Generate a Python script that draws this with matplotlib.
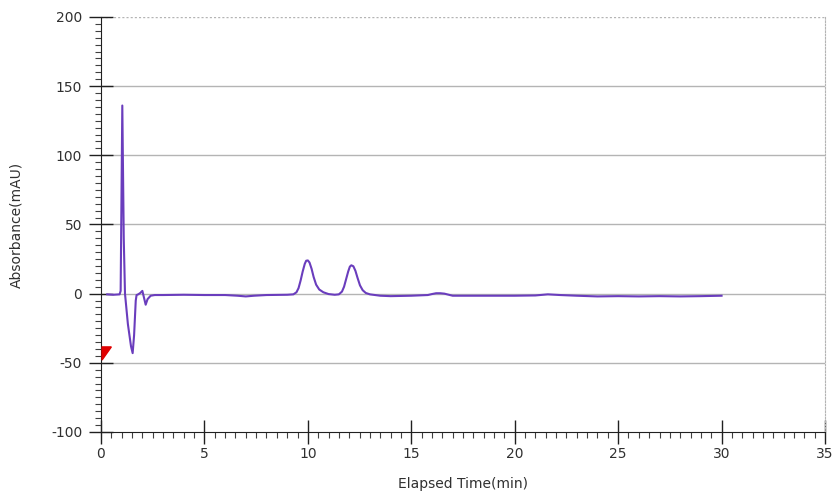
import matplotlib
matplotlib.use("Agg")
import matplotlib.pyplot as plt
from matplotlib.ticker import MultipleLocator

plt.rcParams["axes.unicode_minus"] = False

# chromatogram trace
time_min = [0.3, 0.6, 0.9, 0.95, 1.03, 1.1, 1.16, 1.3, 1.45, 1.53, 1.6, 1.68,
            1.72, 1.8, 1.9, 2.0, 2.08, 2.16, 2.25, 2.4, 2.6, 3.0, 4.0, 5.0,
            6.0, 6.6, 7.0, 7.4, 8.0, 9.0, 9.3, 9.45, 9.55, 9.65, 9.75, 9.85,
            9.92, 10.0, 10.08, 10.18, 10.28, 10.4, 10.55, 10.75, 11.0, 11.3,
            11.5, 11.65, 11.75, 11.85, 11.95, 12.03, 12.1, 12.2, 12.3, 12.4,
            12.52, 12.65, 12.8, 13.0, 13.5, 14.0, 15.0, 15.8, 16.0, 16.2,
            16.4, 16.6, 17.0, 18.0, 19.0, 20.0, 21.0, 21.6, 22.2, 23.0, 24.0,
            25.0, 26.0, 27.0, 28.0, 29.0, 30.0]
absorbance = [-0.5, -0.8, -0.5, 2, 136, 40, 0, -22, -38, -43, -30, -5,
              -1, -0.5, 0.5, 2, -3, -8, -4, -1.5, -1, -1, -0.8, -1,
              -1, -1.5, -2, -1.5, -1, -0.8, -0.5, 1, 4, 9.5, 16, 21.5,
              23.8, 24, 22.5, 18, 12, 6.5, 3, 1, -0.3, -0.8,
              -0.5, 1.5, 5, 10.5, 16, 19.5, 20.5, 19.8, 16.5, 11.5,
              6, 2.5, 0.5, -0.5, -1.5, -1.8, -1.5, -1, -0.3, 0.3,
              0.3, 0, -1.5, -1.5, -1.5, -1.5, -1.3, -0.5, -1, -1.5, -2,
              -1.8, -2, -1.8, -2, -1.8, -1.5]

# red flag marker at the y axis
flag_t = [0.05, 0.5, 0.05]
flag_y = [-38.5, -38.5, -48]

x_min, x_max = 0, 35
y_min, y_max = -100, 200

fig = plt.figure(figsize=(8.34, 4.91), dpi=100)
ax = fig.add_axes([0.1211, 0.1202, 0.8681, 0.8452])

# horizontal grid
for yv in range(-50, 200, 50):
    ax.axhline(yv, color="#b4b4b4", lw=1, zorder=0)
ax.axhline(y_max, color="#b4b4b4", lw=1, ls=(0, (1.5, 1.5)), zorder=0)

ax.plot(time_min, absorbance, color="#6a3dbd", lw=1.5, zorder=3)
ax.fill(flag_t, flag_y, color="#e00000", zorder=4, clip_on=False)

ax.set_xlim(x_min, x_max)
ax.set_ylim(y_min, y_max)

ax.spines["top"].set_visible(False)
ax.spines["right"].set_color("#b4b4b4")
ax.spines["right"].set_linestyle((0, (1.5, 1.5)))
ax.spines["left"].set_color("#202020")
ax.spines["bottom"].set_color("#202020")

ax.xaxis.set_major_locator(MultipleLocator(5))
ax.xaxis.set_minor_locator(MultipleLocator(0.5))
ax.yaxis.set_major_locator(MultipleLocator(50))
ax.yaxis.set_minor_locator(MultipleLocator(5))

ax.tick_params(axis="both", which="major", direction="inout", length=17,
               width=1, color="#202020", labelsize=10, labelcolor="#303030")
ax.tick_params(axis="x", which="major", pad=2)
ax.tick_params(axis="y", which="major", pad=5)
ax.tick_params(axis="both", which="minor", direction="out", length=4,
               width=0.8, color="#404040")

for lab in ax.get_xticklabels() + ax.get_yticklabels():
    lab.set_family("DejaVu Sans")

ax.set_xlabel("Elapsed Time(min)", fontsize=10, family="DejaVu Sans",
              color="#303030", labelpad=12)
ax.set_ylabel("Absorbance(mAU)", fontsize=10, family="DejaVu Sans",
              color="#303030", labelpad=20)

fig.savefig("out.png", dpi=100)
